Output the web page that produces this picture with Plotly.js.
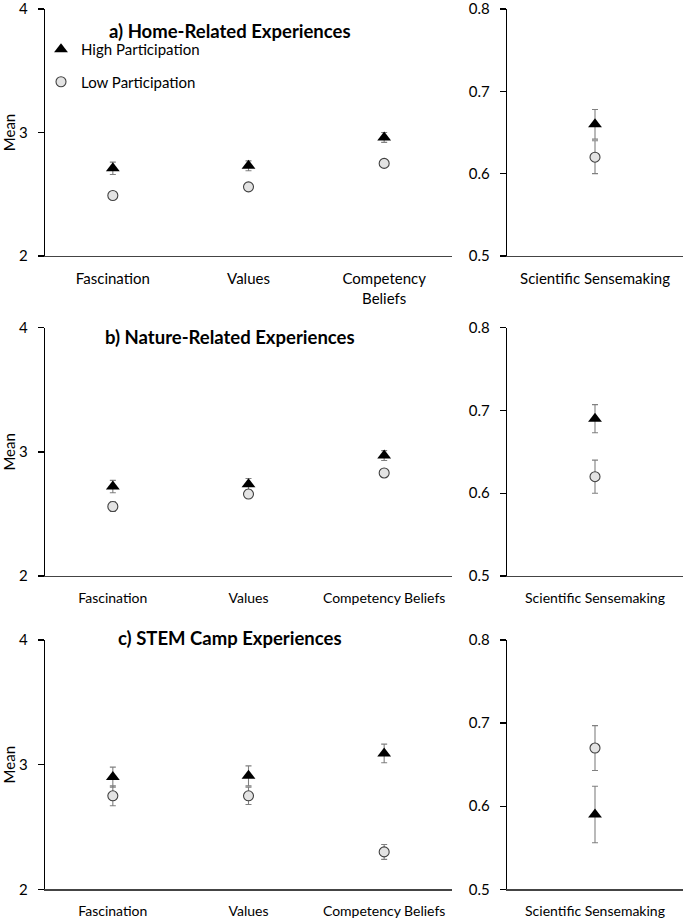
<!DOCTYPE html>
<html>
<head>
<meta charset="utf-8">
<script src="https://cdn.plot.ly/plotly-3.0.1.min.js"></script>
<style>html,body{margin:0;padding:0;background:#fff;}#chart{width:685px;height:918px;}</style>
</head>
<body>
<div id="chart"></div>
<script>
// ---- data ----
var categoriesA = ['Fascination', 'Values', 'Competency<br>Beliefs'];
var categoriesBC = ['Fascination', 'Values', 'Competency Beliefs'];
var senseCategory = ['Scientific Sensemaking'];
var panelTitles = ['a) Home-Related Experiences', 'b) Nature-Related Experiences', 'c) STEM Camp Experiences'];
var seriesNames = ['High Participation', 'Low Participation'];

var homeHigh = [2.71, 2.73, 2.96];
var homeHighErr = [0.05, 0.04, 0.04];
var homeLow = [2.49, 2.56, 2.75];
var homeLowErr = [0.03, 0.03, 0.03];
var homeSenseHigh = [0.66];
var homeSenseHighErr = [0.018];
var homeSenseLow = [0.62];
var homeSenseLowErr = [0.02];

var natureHigh = [2.72, 2.74, 2.97];
var natureHighErr = [0.05, 0.045, 0.04];
var natureLow = [2.56, 2.66, 2.83];
var natureLowErr = [0.04, 0.03, 0.03];
var natureSenseHigh = [0.69];
var natureSenseHighErr = [0.017];
var natureSenseLow = [0.62];
var natureSenseLowErr = [0.02];

var campHigh = [2.90, 2.91, 3.09];
var campHighErr = [0.08, 0.08, 0.075];
var campLow = [2.75, 2.75, 2.30];
var campLowErr = [0.08, 0.07, 0.06];
var campSenseHigh = [0.59];
var campSenseHighErr = [0.034];
var campSenseLow = [0.67];
var campSenseLowErr = [0.027];

// ---- styles ----
var FONT = 'Lato, "Open Sans", sans-serif';
var highMarker = {symbol: 'triangle-up', size: 12, color: '#000000', line: {width: 0}};
var lowMarker = {symbol: 'circle', size: 10, color: '#e3e3e3', line: {width: 1.1, color: '#404040'}};
var errStyle = {color: '#808080', thickness: 1.1, width: 3};

function pt(x, y, err, name, marker, xa, ya, showLeg) {
  return {
    type: 'scatter', mode: 'markers', x: x, y: y, name: name,
    marker: marker, xaxis: xa, yaxis: ya,
    error_y: Object.assign({type: 'data', array: err, visible: true}, errStyle),
    showlegend: !!showLeg, legendgroup: name, hoverinfo: 'x+y'
  };
}

var traces = [
  pt(categoriesA, homeHigh, homeHighErr, seriesNames[0], highMarker, 'x', 'y', true),
  pt(categoriesA, homeLow, homeLowErr, seriesNames[1], lowMarker, 'x', 'y', true),
  pt(senseCategory, homeSenseHigh, homeSenseHighErr, seriesNames[0], highMarker, 'x2', 'y2'),
  pt(senseCategory, homeSenseLow, homeSenseLowErr, seriesNames[1], lowMarker, 'x2', 'y2'),
  pt(categoriesBC, natureHigh, natureHighErr, seriesNames[0], highMarker, 'x3', 'y3'),
  pt(categoriesBC, natureLow, natureLowErr, seriesNames[1], lowMarker, 'x3', 'y3'),
  pt(senseCategory, natureSenseHigh, natureSenseHighErr, seriesNames[0], highMarker, 'x4', 'y4'),
  pt(senseCategory, natureSenseLow, natureSenseLowErr, seriesNames[1], lowMarker, 'x4', 'y4'),
  pt(categoriesBC, campHigh, campHighErr, seriesNames[0], highMarker, 'x5', 'y5'),
  pt(categoriesBC, campLow, campLowErr, seriesNames[1], lowMarker, 'x5', 'y5'),
  pt(senseCategory, campSenseHigh, campSenseHighErr, seriesNames[0], highMarker, 'x6', 'y6'),
  pt(senseCategory, campSenseLow, campSenseLowErr, seriesNames[1], lowMarker, 'x6', 'y6')
];

var W = 685, H = 918;
function px(v) { return v / W; }
function py(v) { return 1 - v / H; }

function xAxis(dom, anchor, n, size) {
  return {
    domain: dom, anchor: anchor, type: 'category', range: [-0.5, n - 0.5],
    showline: true, linecolor: '#444444', linewidth: 1.3, ticks: '', showgrid: false,
    zeroline: false, tickfont: {family: FONT, size: size, color: '#000'},
    ticklabelstandoff: 9, ticklabeloverflow: 'allow', fixedrange: true
  };
}
function yAxis(dom, anchor, rng, dtick, fmt, withTitle) {
  var a = {
    domain: dom, anchor: anchor, range: rng, dtick: dtick, tick0: rng[0], tickformat: fmt,
    showline: true, linecolor: '#000000', linewidth: 1.3, ticks: 'outside', ticklen: 6,
    tickwidth: 1.3, tickcolor: '#000000', showgrid: false, zeroline: false,
    tickfont: {family: FONT, size: 15, color: '#000'}, ticklabelstandoff: 7,
    ticklabeloverflow: 'allow', fixedrange: true
  };
  if (withTitle) a.title = {text: 'Mean', font: {family: FONT, size: 15, color: '#000'}, standoff: 4};
  return a;
}

var leftX = [px(45), px(452)];
var rightX = [px(507), px(683)];
var rowA = [py(256), py(9)];
var rowB = [py(576), py(327.7)];
var rowC = [py(889.3), py(640)];

var layout = {
  width: W, height: H, autosize: false,
  margin: {l: 0, r: 0, t: 0, b: 0},
  paper_bgcolor: '#ffffff', plot_bgcolor: '#ffffff',
  font: {family: FONT, color: '#000'},
  showlegend: true,
  legend: {
    x: px(41), y: py(33), xanchor: 'left', yanchor: 'top',
    font: {family: FONT, size: 15, color: '#000'},
    traceorder: 'grouped', tracegroupgap: 10, bgcolor: 'rgba(0,0,0,0)', borderwidth: 0
  },
  xaxis: xAxis(leftX, 'y', 3, 15),
  yaxis: yAxis(rowA, 'x', [2, 4], 1, 'd', true),
  xaxis2: xAxis(rightX, 'y2', 1, 15),
  yaxis2: yAxis(rowA, 'x2', [0.5, 0.8], 0.1, '.1f', false),
  xaxis3: xAxis(leftX, 'y3', 3, 14),
  yaxis3: yAxis(rowB, 'x3', [2, 4], 1, 'd', true),
  xaxis4: xAxis(rightX, 'y4', 1, 14),
  yaxis4: yAxis(rowB, 'x4', [0.5, 0.8], 0.1, '.1f', false),
  xaxis5: xAxis(leftX, 'y5', 3, 14),
  yaxis5: yAxis(rowC, 'x5', [2, 4], 1, 'd', true),
  xaxis6: xAxis(rightX, 'y6', 1, 14),
  yaxis6: yAxis(rowC, 'x6', [0.5, 0.8], 0.1, '.1f', false),
  annotations: [
    {text: '<b>' + panelTitles[0] + '</b>', xref: 'paper', yref: 'paper', x: px(230), y: py(18), showarrow: false, font: {family: FONT, size: 18.5, color: '#000'}},
    {text: '<b>' + panelTitles[1] + '</b>', xref: 'paper', yref: 'paper', x: px(230), y: py(337), showarrow: false, font: {family: FONT, size: 18.5, color: '#000'}},
    {text: '<b>' + panelTitles[2] + '</b>', xref: 'paper', yref: 'paper', x: px(230), y: py(651), showarrow: false, font: {family: FONT, size: 18.5, color: '#000'}}
  ]
};

Plotly.newPlot('chart', traces, layout, {displayModeBar: false, staticPlot: true});
</script>
</body>
</html>
